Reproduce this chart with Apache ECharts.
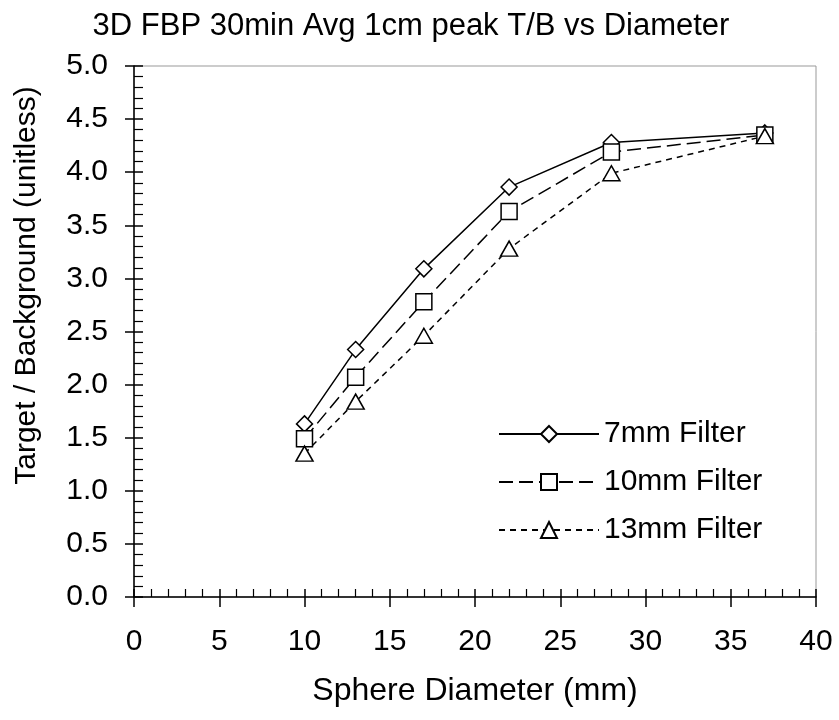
<!DOCTYPE html>
<html>
<head>
<meta charset="utf-8">
<script src="https://cdn.jsdelivr.net/npm/echarts@6/dist/echarts.min.js"></script>
<style>html,body{margin:0;padding:0;background:#fff;}#c{width:839px;height:720px;}</style>
</head>
<body>
<div id="c"></div>
<script>
var titleText = '3D FBP 30min Avg 1cm peak T/B vs Diameter';
var xName = 'Sphere Diameter (mm)';
var yName = 'Target / Background (unitless)';
var diameters = [10, 13, 17, 22, 28, 37];
var seriesNames = ['7mm Filter', '10mm Filter', '13mm Filter'];
var f7 = [1.63, 2.33, 3.09, 3.86, 4.28, 4.37];
var f10 = [1.49, 2.07, 2.78, 3.63, 4.19, 4.35];
var f13 = [1.35, 1.84, 2.46, 3.28, 3.99, 4.34];
var xMin = 0, xMax = 40, xStep = 5;
var yMin = 0, yMax = 5, yStep = 0.5;

function pairs(v) { return diameters.map(function (d, i) { return [d, v[i]]; }); }

var FONT = 'Liberation Sans, Arial, sans-serif';
var chart = echarts.init(document.getElementById('c'));

function mkSeries(name, vals, symbol, size, dash) {
  return {
    name: name, type: 'line', data: pairs(vals),
    xAxisIndex: 0, yAxisIndex: 0,
    symbol: symbol, symbolSize: size,
    lineStyle: { color: '#000', width: 1.5, type: dash },
    itemStyle: { color: '#fff', borderColor: '#000', borderWidth: 1.5 },
    emphasis: { disabled: true },
    animation: false
  };
}

chart.setOption({
  animation: false,
  backgroundColor: '#fff',
  title: {
    text: titleText, left: 406, top: 6, textAlign: 'center',
    textStyle: { fontFamily: FONT, fontSize: 31, fontWeight: 'normal', color: '#000' }
  },
  grid: { left: 134, right: 23, top: 66, bottom: 123, show: true, borderColor: '#999', borderWidth: 1, backgroundColor: 'transparent' },
  legend: {
    orient: 'vertical', left: 493, top: 414,
    itemWidth: 100, itemHeight: 20, itemGap: 18,
    textStyle: { fontFamily: FONT, fontSize: 30, color: '#000' },
    data: seriesNames
  },
  xAxis: [{
    type: 'value', min: xMin, max: xMax, interval: xStep, position: 'bottom',
    name: xName, nameLocation: 'middle', nameGap: 78,
    nameTextStyle: { fontFamily: FONT, fontSize: 32, color: '#000' },
    axisLine: { show: true, lineStyle: { color: '#000', width: 1.5 } },
    axisTick: { show: true, inside: false, length: 10, lineStyle: { color: '#000', width: 1.5 } },
    axisLabel: { margin: 30, fontFamily: FONT, fontSize: 30, color: '#000' },
    splitLine: { show: false }
  }, {
    type: 'value', min: xMin, max: xMax, interval: xStep, position: 'bottom',
    axisLine: { show: false },
    axisTick: { show: true, inside: true, length: 8, lineStyle: { color: '#000', width: 1.5 } },
    minorTick: { show: true, splitNumber: 5, length: 8, lineStyle: { color: '#000', width: 1.2 } },
    axisLabel: { show: false },
    splitLine: { show: false }
  }],
  yAxis: [{
    type: 'value', min: yMin, max: yMax, interval: yStep, position: 'left',
    name: yName, nameLocation: 'middle', nameGap: 92,
    nameTextStyle: { fontFamily: FONT, fontSize: 30, color: '#000', padding: [0, 0, 0, 92] },
    axisLine: { show: true, lineStyle: { color: '#000', width: 1.5 } },
    axisTick: { show: true, inside: false, length: 9, lineStyle: { color: '#000', width: 1.5 } },
    axisLabel: { margin: 26, fontFamily: FONT, fontSize: 30, color: '#000', formatter: function (v) { return v.toFixed(1); } },
    splitLine: { show: false }
  }, {
    type: 'value', min: yMin, max: yMax, interval: yStep, position: 'left',
    axisLine: { show: false },
    axisTick: { show: true, inside: true, length: 9, lineStyle: { color: '#000', width: 1.5 } },
    minorTick: { show: true, splitNumber: 5, length: 9, lineStyle: { color: '#000', width: 1.2 } },
    axisLabel: { show: false },
    splitLine: { show: false }
  }],
  series: [
    mkSeries(seriesNames[0], f7, 'diamond', [16, 16], 'solid'),
    mkSeries(seriesNames[1], f10, 'rect', 16, [14, 6]),
    mkSeries(seriesNames[2], f13, 'triangle', [17, 15], [6, 5])
  ]
});
</script>
</body>
</html>
